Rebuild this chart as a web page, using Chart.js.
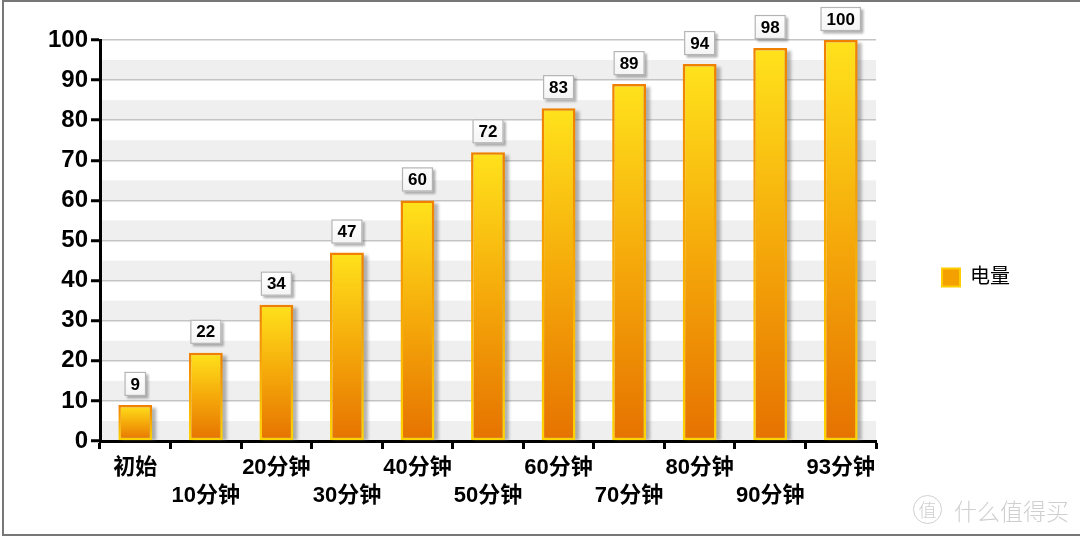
<!DOCTYPE html>
<html>
<head>
<meta charset="utf-8">
<script src="https://cdn.jsdelivr.net/npm/chart.js@4.4.1/dist/chart.umd.min.js"></script>
<style>
  html, body { margin: 0; padding: 0; background: #fff; }
  #wrap { position: relative; width: 1080px; height: 537px; overflow: hidden; }
  #frame { position: absolute; left: 2px; top: 0; width: 1078px; height: 532px;
           border-left: 2px solid #777; border-top: 2px solid #777; border-bottom: 2px solid #777;
           box-sizing: content-box; pointer-events: none; }
  #wm { position: absolute; left: 913px; top: 495px; font-family: "Noto Sans CJK SC", sans-serif;
        font-weight: 300; font-size: 23px; line-height: 30px; color: #cfcfcf; white-space: nowrap; }
  #wm .c { display: inline-block; width: 27px; height: 27px; line-height: 26px; text-align: center;
           border: 1.5px solid #cfcfcf; border-radius: 50%; font-size: 18px; margin-right: 12px;
           vertical-align: top; }
</style>
</head>
<body>
<div id="wrap">
  <canvas id="c" width="1080" height="537"></canvas>
  <div id="frame"></div>
  <div id="wm"><span class="c">值</span>什么值得买</div>
</div>
<script>
const categories = ['初始', '10分钟', '20分钟', '30分钟', '40分钟', '50分钟', '60分钟', '70分钟', '80分钟', '90分钟', '93分钟'];
const seriesName = '电量';
const batteryValues = [9, 22, 34, 47, 60, 72, 83, 89, 94, 98, 100];
const yTickLabels = [0, 10, 20, 30, 40, 50, 60, 70, 80, 90, 100];

const FONT = '"Liberation Sans", Arial, "Noto Sans CJK SC", sans-serif';

const bandsPlugin = {
  id: 'bands',
  beforeDraw(chart) {
    const { ctx, chartArea, scales } = chart;
    if (!chartArea) return;
    const y = scales.y;
    ctx.save();
    ctx.fillStyle = '#efefef';
    for (let v = 0; v < 100; v += 10) {
      const t = y.getPixelForValue(v + 5), b = y.getPixelForValue(v);
      ctx.fillRect(chartArea.left, t, chartArea.right - chartArea.left, b - t);
    }
    ctx.restore();
  }
};

const shadowPlugin = {
  id: 'barShadow',
  beforeDatasetsDraw(chart) {
    const { ctx } = chart;
    const meta = chart.getDatasetMeta(0);
    ctx.save();
    ctx.filter = 'blur(1.5px)';
    ctx.fillStyle = 'rgba(90,90,90,0.45)';
    meta.data.forEach(el => {
      const p = el.getProps(['x', 'y', 'base', 'width'], true);
      ctx.fillRect(p.x - p.width / 2 + 4, p.y + 3, p.width, p.base - p.y - 3);
    });
    ctx.restore();
  }
};

const labelPlugin = {
  id: 'valueBoxes',
  afterDatasetsDraw(chart) {
    const { ctx } = chart;
    const meta = chart.getDatasetMeta(0);
    const ds = chart.data.datasets[0];
    ctx.save();
    ctx.font = 'bold 17px ' + FONT;
    ctx.textAlign = 'center';
    ctx.textBaseline = 'middle';
    meta.data.forEach((el, i) => {
      const p = el.getProps(['x', 'y'], true);
      const txt = String(ds.data[i]);
      const tw = ctx.measureText(txt).width;
      const w = tw + 12, h = 24;
      const x = p.x - w / 2, y = p.y - 9 - h;
      ctx.save();
      ctx.filter = 'blur(1px)';
      ctx.fillStyle = 'rgba(100,100,100,0.5)';
      ctx.fillRect(x + 2.5, y + 2.5, w, h);
      ctx.restore();
      const g = ctx.createLinearGradient(0, y, 0, y + h);
      g.addColorStop(0, '#ffffff');
      g.addColorStop(1, '#f4f4f4');
      ctx.fillStyle = g;
      ctx.fillRect(x, y, w, h);
      ctx.strokeStyle = '#b4b4b4';
      ctx.lineWidth = 1.2;
      ctx.strokeRect(x + 0.5, y + 0.5, w - 1, h - 1);
      ctx.fillStyle = '#000';
      ctx.fillText(txt, p.x, y + h / 2 + 1);
    });
    ctx.restore();
  }
};

function barFill(c) {
  const chart = c.chart;
  if (!chart.chartArea || c.type !== 'data') return '#f5a400';
  const y = chart.scales.y;
  const top = y.getPixelForValue(c.parsed.y), bot = y.getPixelForValue(0);
  const g = chart.ctx.createLinearGradient(0, top, 0, bot);
  g.addColorStop(0, '#ffe21c');
  g.addColorStop(0.5, '#f5a90a');
  g.addColorStop(1, '#e67200');
  return g;
}
function barBorder(c) {
  const chart = c.chart;
  if (!chart.chartArea || c.type !== 'data') return '#ee8000';
  const y = chart.scales.y;
  const top = y.getPixelForValue(c.parsed.y), bot = y.getPixelForValue(0);
  const g = chart.ctx.createLinearGradient(0, top, 0, bot);
  g.addColorStop(0, '#f08000');
  g.addColorStop(1, '#ffd400');
  return g;
}

new Chart(document.getElementById('c'), {
  type: 'bar',
  data: {
    labels: categories.map((c, i) => i % 2 === 0 ? [c, ''] : ['', c]),
    datasets: [{
      label: seriesName,
      data: batteryValues,
      backgroundColor: barFill,
      borderColor: barBorder,
      borderWidth: 2.5,
      borderSkipped: false,
      barPercentage: 0.48,
      categoryPercentage: 1.0
    }]
  },
  options: {
    responsive: false,
    devicePixelRatio: 1,
    animation: false,
    layout: { padding: { left: 0, right: 60, top: 40, bottom: 22 } },
    plugins: {
      legend: {
        position: 'right',
        labels: {
          boxWidth: 18, boxHeight: 18, padding: 66,
          color: '#000',
          font: { family: FONT, size: 20 },
          generateLabels(chart) {
            return [{ text: seriesName, fillStyle: '#f3a000', strokeStyle: '#ffcc00', lineWidth: 2, datasetIndex: 0 }];
          }
        }
      },
      tooltip: { enabled: false }
    },
    scales: {
      x: {
        offset: true,
        grid: { display: true, drawOnChartArea: false, offset: true, drawTicks: true,
                tickLength: 8, tickWidth: 3, tickColor: '#000' },
        border: { display: true, color: '#000', width: 3 },
        ticks: { autoSkip: false, maxRotation: 0, minRotation: 0, padding: 5, color: '#000',
                 font: { family: FONT, size: 22, weight: 'bold', lineHeight: '28px' } }
      },
      y: {
        min: 0, max: 100,
        afterFit(s) { s.width = 100; },
        grid: { color: '#c4c4c4', lineWidth: 1.5, drawTicks: true, tickLength: 9, tickWidth: 3,
                tickColor: c => yTickLabels.includes(c.tick.value) ? '#000' : 'rgba(0,0,0,0)' },
        border: { display: true, color: '#000', width: 3 },
        ticks: { stepSize: 5, padding: 3, color: '#000',
                 font: { family: FONT, size: 24, weight: 'bold' },
                 callback: v => yTickLabels.includes(v) ? String(v) : '' }
      }
    }
  },
  plugins: [bandsPlugin, shadowPlugin, labelPlugin]
});
</script>
</body>
</html>
